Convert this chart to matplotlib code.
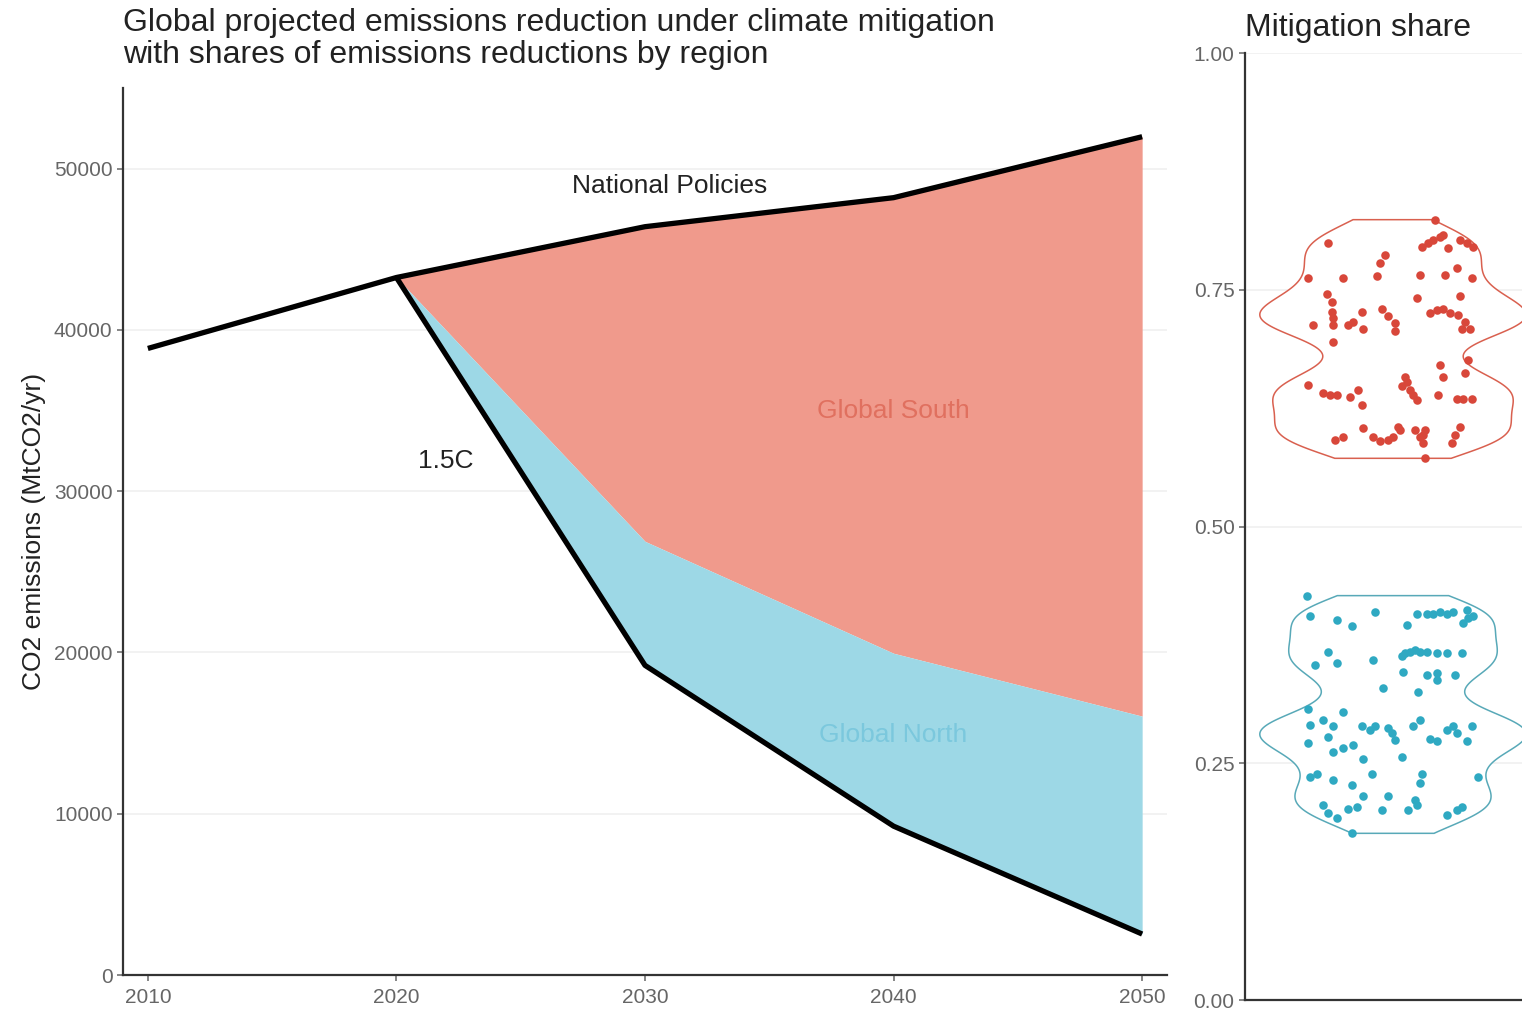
import numpy as np
import matplotlib.pyplot as plt

plt.rcParams['font.family'] = ['Liberation Sans', 'DejaVu Sans']

# emissions (MtCO2/yr)
years = [2010, 2020, 2030, 2040, 2050]
national_policies = [38850, 43250, 46400, 48200, 51980]
mit_years = [2020, 2030, 2040, 2050]
north_top = [43250, 26890, 19950, 16050]   # border between South and North areas
path_15c = [43250, 19200, 9230, 2540]

# mitigation shares per scenario (x = jitter offset)
south_x = [0.170, -0.262, 0.116, 0.143, 0.163, 0.191, 0.204, 0.224, 0.272, 0.299,
           0.326, -0.032, -0.053, -0.066, -0.343, -0.201, 0.109, 0.211, 0.258, 0.319,
           -0.269, -0.249, -0.249, -0.242, -0.242, -0.127, -0.161, -0.181, -0.120, -0.046,
           -0.019, 0.008, 0.008, 0.096, 0.150, 0.177, 0.204, 0.231, 0.265, 0.272,
           0.292, 0.312, 0.278, -0.323, -0.242, 0.305, 0.292, 0.191, 0.204, 0.049,
           0.055, 0.035, 0.069, 0.082, 0.096, -0.343, -0.282, -0.255, -0.228, -0.174,
           -0.141, -0.127, 0.184, 0.258, 0.285, 0.319, -0.120, -0.235, -0.201, -0.080,
           -0.053, -0.019, 0.001, 0.028, 0.022, 0.089, 0.130, 0.123, 0.123, 0.109,
           0.272, 0.251, 0.238, 0.130]
south_share = [0.824, 0.799, 0.795, 0.799, 0.803, 0.806, 0.808, 0.794, 0.803, 0.799,
               0.795, 0.787, 0.778, 0.764, 0.762, 0.762, 0.766, 0.766, 0.773, 0.762,
               0.746, 0.737, 0.727, 0.720, 0.713, 0.727, 0.716, 0.713, 0.709, 0.730,
               0.722, 0.715, 0.706, 0.741, 0.725, 0.729, 0.730, 0.725, 0.723, 0.743,
               0.716, 0.709, 0.709, 0.713, 0.695, 0.676, 0.662, 0.671, 0.658, 0.658,
               0.653, 0.648, 0.644, 0.639, 0.634, 0.649, 0.641, 0.639, 0.639, 0.637,
               0.644, 0.628, 0.639, 0.635, 0.635, 0.635, 0.604, 0.591, 0.595, 0.595,
               0.590, 0.591, 0.595, 0.602, 0.605, 0.602, 0.602, 0.597, 0.588, 0.595,
               0.605, 0.597, 0.588, 0.572]
north_x = [-0.350, -0.336, -0.228, -0.168, -0.073, 0.055, 0.096, 0.136, 0.163, 0.191,
           0.218, 0.245, 0.299, 0.305, 0.285, 0.326, -0.262, -0.228, -0.316, -0.080,
           0.035, 0.049, 0.069, 0.089, 0.109, 0.136, 0.177, 0.218, 0.278, 0.042,
           0.136, 0.177, 0.177, 0.251, -0.039, 0.103, -0.343, -0.201, -0.336, -0.282,
           -0.242, -0.262, -0.343, -0.127, -0.093, -0.073, -0.019, -0.005, 0.008, 0.082,
           0.109, -0.242, -0.201, -0.161, -0.120, 0.035, 0.150, 0.177, 0.218, 0.245,
           0.258, 0.299, 0.319, -0.336, -0.309, -0.242, -0.168, -0.086, 0.116, 0.109,
           0.346, -0.120, -0.019, -0.046, -0.282, -0.262, -0.228, -0.181, -0.147, 0.062,
           0.089, 0.096, 0.218, 0.258, 0.278, -0.168]
north_share = [0.427, 0.405, 0.401, 0.395, 0.410, 0.396, 0.408, 0.408, 0.408, 0.410,
               0.408, 0.410, 0.412, 0.403, 0.398, 0.405, 0.368, 0.356, 0.354, 0.359,
               0.363, 0.366, 0.368, 0.370, 0.368, 0.368, 0.366, 0.366, 0.366, 0.346,
               0.343, 0.345, 0.338, 0.343, 0.329, 0.325, 0.307, 0.304, 0.290, 0.296,
               0.289, 0.278, 0.271, 0.289, 0.285, 0.289, 0.287, 0.282, 0.275, 0.289,
               0.296, 0.262, 0.266, 0.269, 0.255, 0.257, 0.276, 0.273, 0.285, 0.289,
               0.282, 0.273, 0.289, 0.236, 0.239, 0.232, 0.227, 0.239, 0.239, 0.229,
               0.236, 0.215, 0.215, 0.201, 0.206, 0.197, 0.192, 0.202, 0.204, 0.201,
               0.211, 0.206, 0.195, 0.201, 0.204, 0.176]

south_fill = '#F09A8C'
north_fill = '#9DD8E6'
south_pt = '#D8473A'
north_pt = '#2FA9C2'
tick_col = '#666666'
grid_col = '#F0F0F0'

fig = plt.figure(figsize=(15.22, 10.13), dpi=100)

# ---------- left panel: emissions pathways ----------
ax = fig.add_axes([123 / 1522, 38 / 1013, 1044 / 1522, 887 / 1013])
ax.fill_between(mit_years, north_top, national_policies[1:], color=south_fill, lw=0, zorder=1)
ax.fill_between(mit_years, path_15c, north_top, color=north_fill, lw=0, zorder=1)
ax.plot(years, national_policies, color='black', lw=3.8, solid_capstyle='butt', zorder=3)
ax.plot(mit_years, path_15c, color='black', lw=3.8, solid_capstyle='butt', zorder=3)

ax.text(2031, 48950, 'National Policies', ha='center', va='center', fontsize=19, color='#222222')
ax.text(2022, 31850, '1.5C', ha='center', va='center', fontsize=19, color='#222222')
ax.text(2040, 35000, 'Global South', ha='center', va='center', fontsize=19, color='#E0705F')
ax.text(2040, 14870, 'Global North', ha='center', va='center', fontsize=19, color='#7BC8DD')

ax.set_xlim(2009, 2051)
ax.set_ylim(0, 55000)
ax.set_xticks(years)
ax.set_yticks([0, 10000, 20000, 30000, 40000, 50000])
ax.set_ylabel('CO2 emissions (MtCO2/yr)', fontsize=19, color='#222222', labelpad=6)
ax.set_title('Global projected emissions reduction under climate mitigation\n'
             'with shares of emissions reductions by region',
             loc='left', fontsize=23, color='#222222', pad=18, linespacing=1.08)

# ---------- right panel: mitigation share ----------
ax2 = fig.add_axes([1245 / 1522, 13 / 1013, 296 / 1522, 947 / 1013])


def violin(vals, color, halfw=0.54, adjust=0.8):
    vals = np.asarray(vals)
    n = len(vals)
    iqr = np.subtract(*np.percentile(vals, [75, 25]))
    bw = adjust * 0.9 * min(vals.std(ddof=1), iqr / 1.34) * n ** -0.2
    grid = np.linspace(vals.min(), vals.max(), 300)
    dens = np.exp(-0.5 * ((grid[:, None] - vals[None, :]) / bw) ** 2).sum(axis=1)
    w = dens / dens.max() * halfw
    xs = np.concatenate([w, -w[::-1], w[:1]])
    ys = np.concatenate([grid, grid[::-1], grid[:1]])
    ax2.fill(xs, ys, facecolor='white', edgecolor=color, lw=1.1, zorder=2)


violin(south_share, '#D9604F')
violin(north_share, '#58A9B8')
ax2.scatter(south_x, south_share, s=38, color=south_pt, lw=0, zorder=3)
ax2.scatter(north_x, north_share, s=38, color=north_pt, lw=0, zorder=3)

ax2.set_xlim(-0.6, 0.6)
ax2.set_ylim(0, 1)
ax2.set_xticks([])
ax2.set_yticks([0, 0.25, 0.5, 0.75, 1.0])
ax2.set_yticklabels(['0.00', '0.25', '0.50', '0.75', '1.00'])
ax2.set_title('Mitigation share', loc='left', fontsize=23, color='#222222', pad=12)

for a in (ax, ax2):
    for s in ('top', 'right'):
        a.spines[s].set_visible(False)
    for s in ('left', 'bottom'):
        a.spines[s].set_color('#333333')
        a.spines[s].set_linewidth(1.6)
    a.tick_params(colors=tick_col, labelsize=15, length=4, width=1.1, direction='out')
    a.grid(axis='y', color=grid_col, lw=1.2, zorder=0)
    a.set_axisbelow(True)
ax.tick_params(axis='x', pad=5)

fig.savefig('out.png', dpi=100)
